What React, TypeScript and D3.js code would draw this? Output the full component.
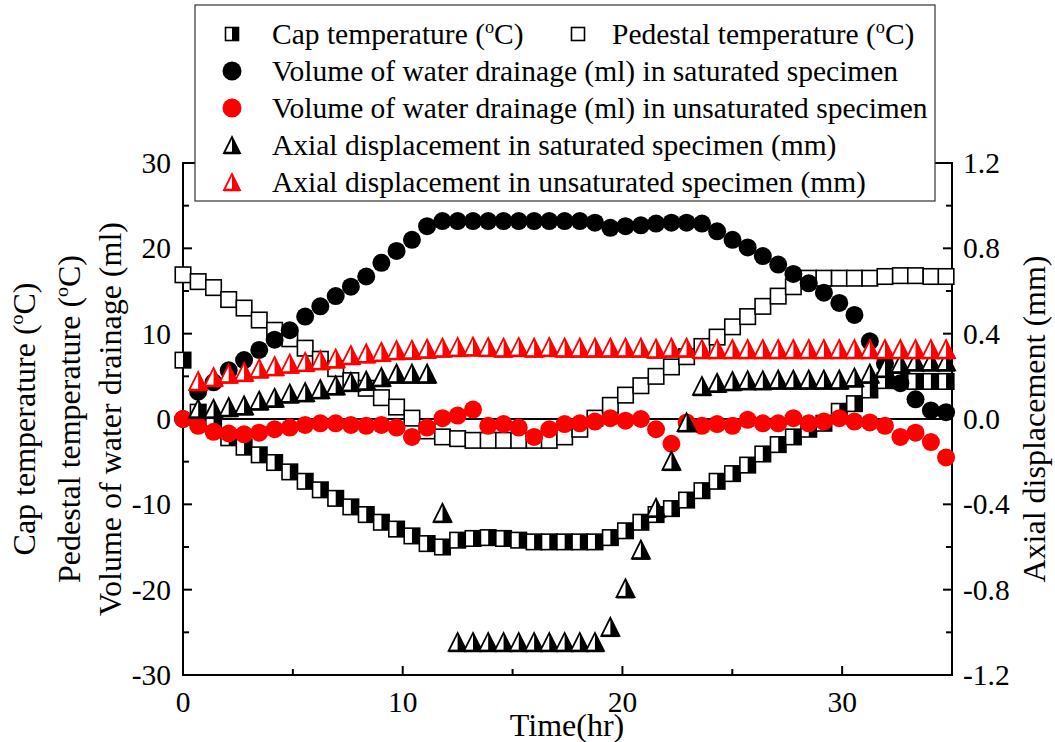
import React from "react";
import * as d3 from "d3";

// Sampling times (hr)
const hours = [
  0, 0.69, 1.39, 2.08, 2.78, 3.47, 4.17, 4.86, 5.56, 6.25,
  6.95, 7.64, 8.34, 9.03, 9.72, 10.42, 11.11, 11.81, 12.5, 13.2,
  13.89, 14.59, 15.28, 15.98, 16.67, 17.37, 18.06, 18.75, 19.45, 20.14,
  20.84, 21.53, 22.23, 22.92, 23.62, 24.31, 25.01, 25.7, 26.39, 27.09,
  27.78, 28.48, 29.17, 29.87, 30.56, 31.26, 31.95, 32.65, 33.34, 34.04,
  34.73,
];

// Left axis series
const capTemperature = [
  6.9, 0.8, -0.5, -2.2, -3.3, -4.2, -5.1, -6.2, -7.3, -8.3,
  -9.3, -10.3, -11.2, -12.1, -12.9, -13.7, -14.6, -15.0, -14.2, -14.0,
  -13.9, -14.0, -14.2, -14.4, -14.4, -14.4, -14.4, -14.4, -13.9, -13.1,
  -12.1, -11.2, -10.5, -9.5, -8.4, -7.3, -6.4, -5.4, -4.1, -3.0,
  -2.1, -1.2, -0.5, 0.9, 1.8, 3.4, 4.5, 4.5, 4.4, 4.4,
  4.4,
];
const pedestalTemperature = [
  16.9, 16.1, 15.4, 14.0, 13.0, 11.6, 10.4, 9.4, 8.3, 7.0,
  5.9, 4.5, 3.6, 2.5, 1.4, 0.1, -1.4, -2.1, -2.3, -2.5,
  -2.5, -2.5, -2.5, -2.5, -2.5, -2.1, -1.2, 0.1, 1.6, 2.8,
  3.9, 5.0, 6.1, 7.3, 8.5, 9.6, 10.8, 12.0, 13.2, 14.4,
  15.5, 16.5, 16.5, 16.5, 16.5, 16.5, 16.7, 16.8, 16.8, 16.7,
  16.7,
];
const drainageSaturated = [
  0, 3.2, 4.3, 5.7, 6.9, 8.1, 9.3, 10.4, 12.0, 13.2,
  14.4, 15.5, 16.7, 18.3, 19.7, 21.0, 22.6, 23.2, 23.2, 23.2,
  23.2, 23.2, 23.2, 23.2, 23.2, 23.2, 23.2, 23.0, 22.4, 22.6,
  22.7, 22.9, 23.0, 23.0, 22.9, 22.0, 21.0, 20.1, 19.1, 18.1,
  17.0, 15.9, 14.8, 13.6, 12.2, 9.1, 6.5, 4.2, 2.3, 1.0,
  0.8,
];
const drainageUnsaturated = [
  0, -0.8, -1.5, -1.7, -1.8, -1.6, -1.2, -1.0, -0.7, -0.5,
  -0.5, -0.7, -0.8, -0.7, -1.0, -2.1, -1.0, 0.1, 0.4, 1.1,
  -0.8, -0.6, -1.0, -2.1, -1.2, -0.6, -0.5, -0.3, 0.1, -0.2,
  0, -1.2, -2.9, -0.4, -0.8, -0.6, -0.8, -0.1, -0.5, -0.5,
  0.1, -0.5, -0.3, 0.1, -0.3, -0.4, -0.8, -2.1, -1.6, -2.7,
  -4.5,
];

// Right axis series (mm)
const axialSaturated: (number | null)[] = [
  null, 0.048, 0.048, 0.056, 0.064, 0.087, 0.1, 0.12, 0.126, 0.14,
  0.158, 0.174, 0.18, 0.197, 0.213, 0.213, 0.213, -0.44, -1.045, -1.045,
  -1.045, -1.045, -1.045, -1.045, -1.045, -1.045, -1.045, -1.045, -0.974, -0.793,
  -0.612, -0.416, -0.196, -0.015, 0.155, 0.17, 0.178, 0.182, 0.182, 0.185,
  0.185, 0.185, 0.185, 0.185, 0.195, 0.213, 0.24, 0.26, 0.27, 0.27,
  0.27,
];
const axialUnsaturated: (number | null)[] = [
  null, 0.178, 0.197, 0.213, 0.221, 0.237, 0.248, 0.26, 0.268, 0.276,
  0.284, 0.3, 0.308, 0.315, 0.323, 0.325, 0.33, 0.335, 0.338, 0.34,
  0.338, 0.335, 0.338, 0.335, 0.338, 0.335, 0.335, 0.335, 0.335, 0.335,
  0.335, 0.33, 0.335, 0.335, 0.328, 0.328, 0.328, 0.328, 0.328, 0.328,
  0.328, 0.328, 0.328, 0.328, 0.328, 0.328, 0.328, 0.328, 0.328, 0.328,
  0.328,
];

const leftTicks = [-30, -20, -10, 0, 10, 20, 30];
const leftMinor = [-25, -15, -5, 5, 15, 25];
const rightTicks = [-1.2, -0.8, -0.4, 0, 0.4, 0.8, 1.2];
const rightMinor = [-1.0, -0.6, -0.2, 0.2, 0.6, 1.0];
const timeTicks = [0, 10, 20, 30];
const timeMinor = [5, 15, 25];

const FONT = "Liberation Serif, Times New Roman, DejaVu Serif, serif";
const RED = "#ff0000";

const X0 = 183, X1 = 952, Y0 = 675, Y1 = 163;
const x = d3.scaleLinear().domain([0, 35]).range([X0, X1]);
const yL = d3.scaleLinear().domain([-30, 30]).range([Y0, Y1]);
const yR = d3.scaleLinear().domain([-1.2, 1.2]).range([Y0, Y1]);

const SQ = 15.5;
const CR = 9;
const TW = 18;
const TH = 18;

function HalfSquare({ cx, cy, s = SQ }: { cx: number; cy: number; s?: number }) {
  return (
    <g>
      <rect x={cx - s / 2} y={cy - s / 2} width={s} height={s} fill="#fff" />
      <rect x={cx} y={cy - s / 2} width={s / 2} height={s} fill="#000" />
      <rect x={cx - s / 2} y={cy - s / 2} width={s} height={s} fill="none" stroke="#000" strokeWidth={1.6} />
    </g>
  );
}

function OpenSquare({ cx, cy, s = SQ }: { cx: number; cy: number; s?: number }) {
  return <rect x={cx - s / 2} y={cy - s / 2} width={s} height={s} fill="#fff" stroke="#000" strokeWidth={1.6} />;
}

function HalfTriangle({ cx, cy, color, w = TW, h = TH }: { cx: number; cy: number; color: string; w?: number; h?: number }) {
  const top = cy - h / 2, bot = cy + h / 2;
  const outline = `M${cx - w / 2},${bot}L${cx},${top}L${cx + w / 2},${bot}Z`;
  const right = `M${cx},${top}L${cx + w / 2},${bot}L${cx},${bot}Z`;
  return (
    <g>
      <path d={outline} fill="#fff" />
      <path d={right} fill={color} />
      <path d={outline} fill="none" stroke={color} strokeWidth={1.8} strokeLinejoin="miter" />
      <line x1={cx - w / 2} x2={cx + w / 2} y1={bot} y2={bot} stroke={color} strokeWidth={2.6} />
    </g>
  );
}

function Deg({ size }: { size: number }) {
  return (
    <>
      <tspan dy={-size * 0.36} fontSize={size * 0.62}>o</tspan>
      <tspan dy={size * 0.36}>C)</tspan>
    </>
  );
}

function pts(vals: (number | null)[]) {
  return vals
    .map((v, i) => ({ t: hours[i], v }))
    .filter((d) => d.v !== null && d.v !== undefined) as { t: number; v: number }[];
}

export default function App() {
  const tickFs = 29.5;
  const titleFs = 32;
  const legFs = 29.5;
  const legRows = [34, 71, 108, 145, 182];

  return (
    <svg
      width={1055}
      height={742}
      viewBox="0 0 1055 742"
      fontFamily={FONT}
      style={{ position: "absolute", left: 0, top: 0, background: "#fff" }}
    >
      <rect x={0} y={0} width={1055} height={742} fill="#fff" />

      {/* zero reference line */}
      <line x1={X0} x2={X1} y1={yL(0)} y2={yL(0)} stroke="#000" strokeWidth={2} />

      {/* frame */}
      <rect x={X0} y={Y1} width={X1 - X0} height={Y0 - Y1} fill="none" stroke="#000" strokeWidth={2} />

      <g fontFamily={FONT} fill="#000">
        {/* left ticks */}
        {leftTicks.map((t) => (
          <g key={`lt${t}`}>
            <line x1={X0} x2={X0 + 9} y1={yL(t)} y2={yL(t)} stroke="#000" strokeWidth={2} />
            <text x={171} y={yL(t) + 10} textAnchor="end" fontSize={tickFs}>{String(t)}</text>
          </g>
        ))}
        {leftMinor.map((t) => (
          <line key={`lm${t}`} x1={X0} x2={X0 + 6} y1={yL(t)} y2={yL(t)} stroke="#000" strokeWidth={2} />
        ))}

        {/* right ticks */}
        {rightTicks.map((t) => (
          <g key={`rt${t}`}>
            <line x1={X1} x2={X1 - 9} y1={yR(t)} y2={yR(t)} stroke="#000" strokeWidth={2} />
            <text x={963} y={yR(t) + 10} textAnchor="start" fontSize={tickFs}>{t.toFixed(1)}</text>
          </g>
        ))}
        {rightMinor.map((t) => (
          <line key={`rm${t}`} x1={X1} x2={X1 - 6} y1={yR(t)} y2={yR(t)} stroke="#000" strokeWidth={2} />
        ))}

        {/* bottom / top ticks */}
        {timeTicks.map((t) => (
          <g key={`bt${t}`}>
            <line x1={x(t)} x2={x(t)} y1={Y0} y2={Y0 - 9} stroke="#000" strokeWidth={2} />
            <line x1={x(t)} x2={x(t)} y1={Y1} y2={Y1 + 9} stroke="#000" strokeWidth={2} />
            <text x={x(t)} y={712} textAnchor="middle" fontSize={tickFs}>{String(t)}</text>
          </g>
        ))}
        {timeMinor.map((t) => (
          <g key={`bm${t}`}>
            <line x1={x(t)} x2={x(t)} y1={Y0} y2={Y0 - 6} stroke="#000" strokeWidth={2} />
            <line x1={x(t)} x2={x(t)} y1={Y1} y2={Y1 + 6} stroke="#000" strokeWidth={2} />
          </g>
        ))}

        {/* axis titles */}
        <text x={567} y={736} textAnchor="middle" fontSize={titleFs}>Time(hr)</text>
        <text transform={`translate(35,${(Y0 + Y1) / 2}) rotate(-90)`} textAnchor="middle" fontSize={titleFs}>
          Cap temperature (<Deg size={titleFs} />
        </text>
        <text transform={`translate(80,${(Y0 + Y1) / 2}) rotate(-90)`} textAnchor="middle" fontSize={titleFs}>
          Pedestal temperature (<Deg size={titleFs} />
        </text>
        <text transform={`translate(121,${(Y0 + Y1) / 2}) rotate(-90)`} textAnchor="middle" fontSize={titleFs}>
          Volume of water drainage (ml)
        </text>
        <text transform={`translate(1045,${(Y0 + Y1) / 2}) rotate(-90)`} textAnchor="middle" fontSize={titleFs}>
          Axial displacement (mm)
        </text>
      </g>

      {/* data: left axis layer */}
      {pts(capTemperature).map((d, i) => (
        <HalfSquare key={`c${i}`} cx={x(d.t)} cy={yL(d.v)} />
      ))}
      {pts(pedestalTemperature).map((d, i) => (
        <OpenSquare key={`p${i}`} cx={x(d.t)} cy={yL(d.v)} />
      ))}
      {pts(drainageSaturated).map((d, i) => (
        <circle key={`ds${i}`} cx={x(d.t)} cy={yL(d.v)} r={CR} fill="#000" />
      ))}
      {pts(drainageUnsaturated).map((d, i) => (
        <circle key={`du${i}`} cx={x(d.t)} cy={yL(d.v)} r={CR} fill={RED} />
      ))}

      {/* data: right axis layer */}
      {pts(axialSaturated).map((d, i) => (
        <HalfTriangle key={`as${i}`} cx={x(d.t)} cy={yR(d.v)} color="#000" />
      ))}
      {pts(axialUnsaturated).map((d, i) => (
        <HalfTriangle key={`au${i}`} cx={x(d.t)} cy={yR(d.v)} color={RED} />
      ))}

      {/* legend */}
      <g fontFamily={FONT}>
        <rect x={195} y={5} width={740} height={196} fill="#fff" stroke="#333" strokeWidth={1.2} />
        <HalfSquare cx={232} cy={legRows[0]} s={13} />
        <text x={272} y={legRows[0] + 10} fontSize={legFs}>
          Cap temperature (<Deg size={legFs} />
        </text>
        <OpenSquare cx={578} cy={legRows[0]} s={13} />
        <text x={612} y={legRows[0] + 10} fontSize={legFs}>
          Pedestal temperature (<Deg size={legFs} />
        </text>
        <circle cx={232} cy={legRows[1]} r={9.5} fill="#000" />
        <text x={272} y={legRows[1] + 10} fontSize={legFs}>Volume of water drainage (ml) in saturated specimen</text>
        <circle cx={232} cy={legRows[2]} r={9.5} fill={RED} />
        <text x={272} y={legRows[2] + 10} fontSize={legFs}>Volume of water drainage (ml) in unsaturated specimen</text>
        <HalfTriangle cx={232} cy={legRows[3]} color="#000" w={16} h={16} />
        <text x={272} y={legRows[3] + 10} fontSize={legFs}>Axial displacement in saturated specimen (mm)</text>
        <HalfTriangle cx={232} cy={legRows[4]} color={RED} w={16} h={16} />
        <text x={272} y={legRows[4] + 10} fontSize={legFs}>Axial displacement in unsaturated specimen (mm)</text>
      </g>
    </svg>
  );
}
